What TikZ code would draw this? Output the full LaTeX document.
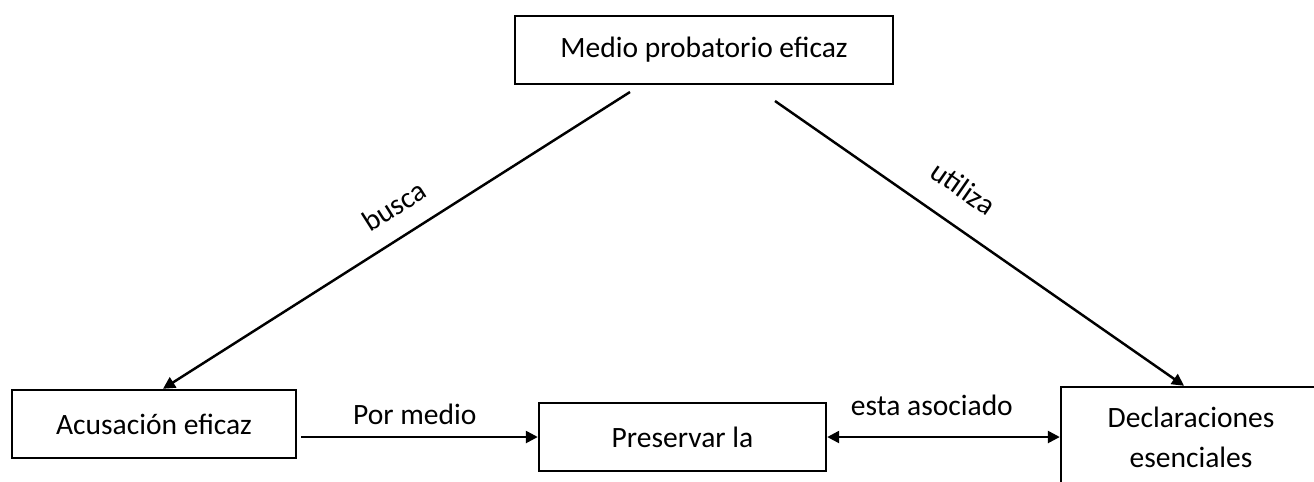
\documentclass[tikz,border=0pt]{standalone}
\usepackage{fontspec}
\setmainfont{Carlito}
\usetikzlibrary{arrows.meta,positioning,calc}

\begin{document}
\begin{tikzpicture}[
    x=0.02cm, y=-0.02cm,
    box/.style={
        rectangle,
        draw,
        line width=1.4pt,
        inner sep=2pt,
        align=center,
        font=\fontsize{16.8}{22.7}\selectfont
    },
    conn/.style={line width=1.4pt, -{Triangle[length=0.24cm,width=0.24cm]}},
    lbl/.style={font=\fontsize{16.8}{18}\selectfont, inner sep=1pt}
]
\useasboundingbox (0,0) rectangle (1314,481);
\clip (0,0) rectangle (1314,481);

% -------- Boxes --------
\node[box, minimum width=7.56cm, minimum height=1.36cm] (medio) at (704,50) {Medio probatorio eficaz};
\node[box, minimum width=5.68cm, minimum height=1.36cm] (acus) at (154,424) {Acusación eficaz};
\node[box, minimum width=5.74cm, minimum height=1.36cm] (pres) at (682.5,437) {Preservar la};
\node[box, minimum width=5.2cm, minimum height=2.0cm] (decl) at (1191,437) {Declaraciones\\esenciales};

% -------- Free line starts --------
\coordinate (bs) at (630,92);
\coordinate (us) at (775,101);

% -------- Connectors --------
\draw[conn] (bs) -- ([xshift=0.18cm]acus.north)
    node[lbl, pos=0.47, sloped, above=0.34cm] (busca) {busca};
\draw[conn] (us) -- ([xshift=-0.14cm]decl.north)
    node[lbl, pos=0.41, sloped, above=0.46cm] (utiliza) {utiliza};
\draw[conn] ([xshift=0.08cm]acus.east |- pres.west) -- (pres.west)
    node[lbl, pos=0.48, above=0.18cm] (pormedio) {Por medio};
\draw[conn, {Triangle[length=0.24cm,width=0.24cm]}-{Triangle[length=0.24cm,width=0.24cm]}] (pres.east) -- (decl.west)
    node[lbl, pos=0.45, above=0.36cm] (asoc) {esta asociado};

\end{tikzpicture}
\end{document}
